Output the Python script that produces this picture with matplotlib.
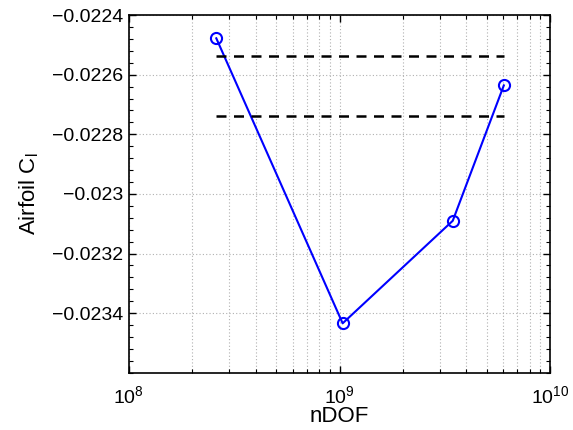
import numpy as np
import matplotlib
matplotlib.use("Agg")
import matplotlib.pyplot as plt
from matplotlib.ticker import FuncFormatter, LogLocator, MultipleLocator

plt.rcParams['font.family'] = ['Liberation Sans', 'DejaVu Sans']
plt.rcParams['mathtext.fontset'] = 'custom'
plt.rcParams['mathtext.rm'] = 'Liberation Sans'
plt.rcParams['mathtext.it'] = 'Liberation Sans:italic'

# data
ndof = [2.6e8, 1.035e9, 3.45e9, 6.03e9]
cl = [-0.022478, -0.023434, -0.02309, -0.022636]
band_hi = -0.022537
band_lo = -0.022737

fig = plt.figure(figsize=(5.73, 4.30), dpi=100)
ax = fig.add_axes([0.225, 0.133, 0.735, 0.832])

ax.semilogx(ndof, cl, '-o', color='#0000ff', lw=1.5, ms=8, mfc='none', mew=1.5)
ax.plot([ndof[0], ndof[-1]], [band_hi, band_hi], '--', color='k', lw=1.8, dashes=(4, 3))
ax.plot([ndof[0], ndof[-1]], [band_lo, band_lo], '--', color='k', lw=1.8, dashes=(4, 3))

ax.set_xlim(1e8, 1e10)
ax.set_ylim(-0.0236, -0.0224)
ax.set_xticks([1e8, 1e9, 1e10])
ax.xaxis.set_minor_locator(LogLocator(base=10, subs=np.arange(2, 10)))
ax.set_yticks([-0.0234, -0.0232, -0.023, -0.0228, -0.0226, -0.0224])
ax.yaxis.set_minor_locator(MultipleLocator(0.00004))
ax.yaxis.set_major_formatter(FuncFormatter(lambda v, p: ('%g' % v).replace('-', '\u2212')))

ax.grid(True, which='major', axis='both', ls=(0, (1, 2)), color='#b0b0b0', lw=0.8)
ax.grid(True, which='minor', axis='x', ls=(0, (1, 2)), color='#b0b0b0', lw=0.8)

ax.tick_params(which='both', direction='in', top=True, right=True, labelsize=14)
ax.tick_params(which='major', length=5, width=1)
ax.tick_params(which='minor', length=3, width=0.8)
ax.tick_params(axis='x', pad=9)
ax.tick_params(axis='y', pad=4)
for s in ax.spines.values():
    s.set_linewidth(1.2)

ax.set_xlabel('nDOF', fontsize=16, labelpad=-1)
ax.set_ylabel('Airfoil C$_\\mathrm{l}$', fontsize=16, labelpad=8)

fig.savefig('out.png', dpi=100)
